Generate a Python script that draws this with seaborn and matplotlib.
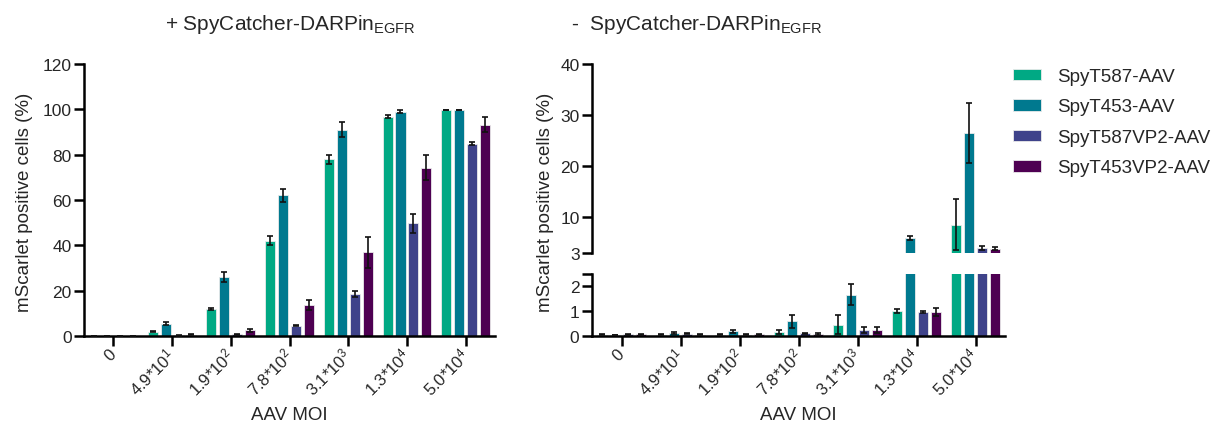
import matplotlib
matplotlib.use("Agg")
import matplotlib.pyplot as plt
import seaborn as sns
import pandas as pd
import numpy as np
from matplotlib.patches import Patch

sns.set_theme(style="ticks")
plt.rcParams['font.family'] = ['Liberation Sans', 'DejaVu Sans']
plt.rcParams['mathtext.fontset'] = 'custom'
plt.rcParams['mathtext.rm'] = 'Liberation Sans'
plt.rcParams['mathtext.it'] = 'Liberation Sans:italic'
plt.rcParams['mathtext.bf'] = 'Liberation Sans:bold'

# ---- data ----
moi_labels = ['0', '4.9*10$^{1}$', '1.9*10$^{2}$', '7.8*10$^{2}$',
              '3.1*10$^{3}$', '1.3*10$^{4}$', '5.0*10$^{4}$']
series = ['SpyT587-AAV', 'SpyT453-AAV', 'SpyT587VP2-AAV', 'SpyT453VP2-AAV']
colors = ['#00A984', '#00798F', '#3F438A', '#4E0052']

# + SpyCatcher-DARPin (means and SD)
plus_t587 = [0, 1.8, 12, 42, 78, 96.7, 99.7]
plus_t453 = [0, 5.5, 26, 62, 91, 99, 99.8]
plus_t587vp2 = [0, 0.3, 0.8, 4.5, 18.5, 49.7, 84.9]
plus_t453vp2 = [0, 0.5, 2.5, 13.5, 37, 74.3, 93.3]
plus_sd_t587 = [0, 0.2, 0.5, 2, 2, 0.6, 0.2]
plus_sd_t453 = [0, 0.5, 2.2, 3, 3.2, 0.6, 0.1]
plus_sd_t587vp2 = [0, 0.1, 0.2, 0.3, 1.3, 4.2, 0.5]
plus_sd_t453vp2 = [0, 0.2, 0.7, 2.2, 6.8, 5.4, 3.2]

# - SpyCatcher-DARPin (means and SD)
minus_t587 = [0.07, 0.07, 0.07, 0.17, 0.47, 1.03, 8.5]
minus_t453 = [0.05, 0.14, 0.2, 0.6, 1.67, 5.9, 26.5]
minus_t587vp2 = [0.08, 0.1, 0.07, 0.12, 0.25, 0.97, 4.0]
minus_t453vp2 = [0.09, 0.07, 0.09, 0.1, 0.25, 0.97, 3.8]
minus_sd_t587 = [0.02, 0.02, 0.02, 0.07, 0.37, 0.08, 5.0]
minus_sd_t453 = [0.01, 0.03, 0.07, 0.25, 0.43, 0.4, 5.85]
minus_sd_t587vp2 = [0.02, 0.02, 0.02, 0.03, 0.13, 0.04, 0.35]
minus_sd_t453vp2 = [0.02, 0.02, 0.02, 0.03, 0.13, 0.17, 0.3]

plus_means = [plus_t587, plus_t453, plus_t587vp2, plus_t453vp2]
plus_sds = [plus_sd_t587, plus_sd_t453, plus_sd_t587vp2, plus_sd_t453vp2]
minus_means = [minus_t587, minus_t453, minus_t587vp2, minus_t453vp2]
minus_sds = [minus_sd_t587, minus_sd_t453, minus_sd_t587vp2, minus_sd_t453vp2]


def make_df(means, sds):
    rows = []
    for s, m, e in zip(series, means, sds):
        for i, lab in enumerate(moi_labels):
            rows.append({'MOI': lab, 'Series': s, 'value': m[i], 'sd': e[i]})
    return pd.DataFrame(rows)


df_plus = make_df(plus_means, plus_sds)
df_minus = make_df(minus_means, minus_sds)

FS_TICK = 12.5
FS_XT = 12
FS_LAB = 13.5
FS_TITLE = 15
LW = 1.8
W, H = 1212, 439


def draw(ax, df):
    sns.barplot(data=df, x='MOI', y='value', hue='Series', order=moi_labels,
                hue_order=series, palette=colors, saturation=1, errorbar=None,
                width=0.88, gap=0.22, edgecolor='#eaeaea', linewidth=0.6,
                legend=False, ax=ax, zorder=2)
    for cont, s in zip(ax.containers, series):
        sub = df[df['Series'] == s].set_index('MOI').loc[moi_labels]
        xs = [p.get_x() + p.get_width() / 2 for p in cont.patches]
        ax.errorbar(xs, sub['value'].values, yerr=sub['sd'].values, fmt='none',
                    ecolor='#111111', elinewidth=1.2, capsize=2.5, capthick=1.2,
                    zorder=3)
    ax.set_xlim(-0.5, 6.5)
    ax.set_xlabel('')
    ax.set_ylabel('')
    for sp in ['top', 'right']:
        ax.spines[sp].set_visible(False)
    for sp in ['left', 'bottom']:
        ax.spines[sp].set_linewidth(LW)
        ax.spines[sp].set_color('black')
    ax.tick_params(axis='both', width=LW, length=7, labelsize=FS_TICK,
                   color='black', direction='out', pad=2)


def set_xticks(ax):
    ax.set_xticks(range(7))
    ax.set_xticklabels(moi_labels, rotation=45, ha='right', va='center',
                       rotation_mode='anchor', fontsize=FS_XT)
    ax.tick_params(axis='x', pad=4)


fig = plt.figure(figsize=(W / 100, H / 100), dpi=100)

# left panel
axL = fig.add_axes([84 / W, (H - 337) / H, 411 / W, 272 / H])
draw(axL, df_plus)
axL.set_ylim(0, 120)
axL.set_yticks([0, 20, 40, 60, 80, 100, 120])
set_xticks(axL)

# right panel (broken y axis)
axU = fig.add_axes([592 / W, (H - 254) / H, 413 / W, 189 / H])
axB = fig.add_axes([592 / W, (H - 337.3) / H, 413 / W, 62.3 / H])
draw(axU, df_minus)
draw(axB, df_minus)
axU.set_ylim(3, 40)
axU.set_yticks([3, 10, 20, 30, 40])
axU.spines['bottom'].set_visible(False)
axU.tick_params(axis='x', bottom=False, labelbottom=False)
axB.set_ylim(0, 2.5)
axB.set_yticks([0, 1, 2, 2.5])
axB.set_yticklabels(['0', '1', '2', ''])
set_xticks(axB)

# labels and titles
for xc in (25, 545):
    fig.text(xc / W, 1 - 202 / H, 'mScarlet positive cells (%)', rotation=90,
             ha='center', va='center', fontsize=FS_LAB)
for xc in (289, 798):
    fig.text(xc / W, 1 - 415 / H, 'AAV MOI', ha='center', va='center',
             fontsize=FS_LAB)
fig.text(290 / W, 1 - 24 / H, '+ SpyCatcher-DARPin$_{\\mathrm{EGFR}}$',
         ha='center', va='center', fontsize=FS_TITLE)
fig.text(696 / W, 1 - 24 / H, '-  SpyCatcher-DARPin$_{\\mathrm{EGFR}}$',
         ha='center', va='center', fontsize=FS_TITLE)

handles = [Patch(facecolor=c, edgecolor='#eaeaea', linewidth=0.6) for c in colors]
fig.legend(handles, series, loc='upper left',
           bbox_to_anchor=(1013 / W, 1 - 69 / H), frameon=False,
           fontsize=FS_LAB, handlelength=1.5, handleheight=0.55,
           labelspacing=0.72, handletextpad=0.85, borderaxespad=0,
           borderpad=0)

fig.savefig('out.png', dpi=100)
